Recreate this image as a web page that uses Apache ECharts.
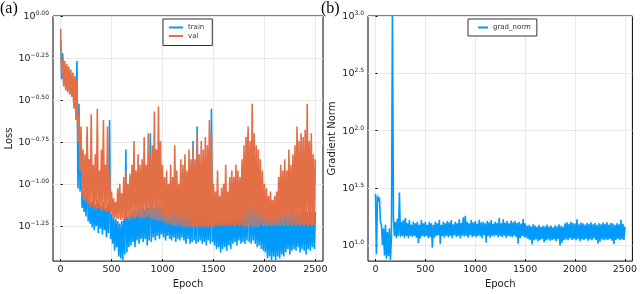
<!DOCTYPE html>
<html>
<head>
<meta charset="utf-8">
<script src="https://cdn.jsdelivr.net/npm/echarts@6/dist/echarts.min.js"></script>
<style>html,body{margin:0;padding:0;background:#fff}#c{width:640px;height:294px}</style>
</head>
<body>
<div id="c"></div>
<script>
const EPOCH_STEP = 10;
const trainLoss = [
0.72,0.42,0.60,0.40,0.48,0.37,0.50,0.36,0.46,0.35,
0.45,0.33,0.43,0.29,0.42,0.26,0.54,0.094,0.30,0.090,
0.16,0.072,0.090,0.068,0.085,0.064,0.19,0.060,0.080,0.058,
0.078,0.055,0.082,0.053,0.075,0.056,0.080,0.051,0.076,0.054,
0.074,0.050,0.078,0.053,0.072,0.048,0.076,0.051,0.24,0.047,
0.066,0.044,0.064,0.040,0.062,0.042,0.060,0.037,0.058,0.036,
0.060,0.035,0.062,0.038,0.16,0.039,0.064,0.042,0.066,0.043,
0.068,0.045,0.070,0.042,0.068,0.046,0.072,0.044,0.070,0.047,
0.072,0.045,0.070,0.047,0.074,0.043,0.072,0.046,0.20,0.045,
0.074,0.048,0.072,0.046,0.076,0.049,0.074,0.047,0.072,0.050,
0.074,0.048,0.076,0.046,0.072,0.049,0.074,0.047,0.070,0.046,
0.072,0.048,0.070,0.045,0.074,0.047,0.072,0.046,0.070,0.048,
0.072,0.046,0.070,0.044,0.074,0.047,0.072,0.044,0.070,0.045,
0.18,0.046,0.074,0.044,0.22,0.045,0.072,0.046,0.074,0.044,
0.072,0.045,0.076,0.043,0.074,0.046,0.078,0.044,0.28,0.045,
0.070,0.043,0.068,0.041,0.070,0.042,0.068,0.039,0.066,0.041,
0.068,0.042,0.066,0.040,0.068,0.043,0.070,0.041,0.068,0.044,
0.070,0.045,0.072,0.043,0.070,0.046,0.072,0.044,0.074,0.045,
0.076,0.044,0.074,0.046,0.20,0.045,0.078,0.044,0.076,0.046,
0.074,0.044,0.072,0.042,0.070,0.043,0.068,0.041,0.066,0.040,
0.066,0.039,0.064,0.036,0.066,0.037,0.064,0.035,0.062,0.037,
0.064,0.035,0.062,0.037,0.064,0.036,0.066,0.038,0.064,0.037,
0.066,0.039,0.068,0.041,0.066,0.038,0.068,0.040,0.070,0.041,
0.068,0.040,0.070,0.042,0.068,0.039,0.070,0.041,0.072,0.040,
0.070,0.038,0.068,0.041,0.070,0.040,0.068,0.042,0.070,0.041,
0.068];
const valLoss = [
0.84,0.45,0.56,0.38,0.54,0.36,0.52,0.35,0.50,0.34,
0.48,0.33,0.46,0.28,0.44,0.24,0.42,0.18,0.26,0.12,
0.22,0.085,0.16,0.080,0.15,0.078,0.22,0.075,0.14,0.072,
0.26,0.074,0.13,0.071,0.15,0.070,0.28,0.072,0.12,0.070,
0.16,0.069,0.24,0.070,0.13,0.068,0.22,0.069,0.12,0.066,
0.090,0.064,0.082,0.063,0.078,0.062,0.094,0.062,0.10,0.061,
0.088,0.062,0.11,0.061,0.12,0.062,0.10,0.063,0.115,0.062,
0.13,0.063,0.18,0.062,0.12,0.064,0.15,0.063,0.13,0.062,
0.14,0.063,0.19,0.062,0.13,0.064,0.20,0.063,0.15,0.062,
0.17,0.061,0.27,0.062,0.16,0.060,0.29,0.061,0.18,0.060,
0.13,0.059,0.11,0.058,0.12,0.057,0.10,0.058,0.13,0.057,
0.11,0.056,0.17,0.057,0.12,0.056,0.10,0.057,0.14,0.056,
0.13,0.055,0.15,0.056,0.12,0.055,0.16,0.056,0.14,0.055,
0.17,0.056,0.14,0.055,0.20,0.056,0.15,0.055,0.18,0.056,
0.16,0.055,0.19,0.056,0.17,0.055,0.24,0.056,0.20,0.055,
0.10,0.056,0.090,0.057,0.12,0.056,0.085,0.057,0.095,0.056,
0.10,0.057,0.13,0.056,0.090,0.057,0.11,0.056,0.12,0.057,
0.11,0.056,0.13,0.057,0.12,0.056,0.11,0.057,0.14,0.056,
0.17,0.055,0.19,0.056,0.22,0.055,0.18,0.056,0.30,0.055,
0.20,0.056,0.17,0.055,0.16,0.056,0.14,0.057,0.12,0.056,
0.10,0.057,0.094,0.056,0.085,0.057,0.090,0.056,0.080,0.057,
0.085,0.056,0.090,0.057,0.11,0.056,0.13,0.057,0.12,0.056,
0.14,0.057,0.12,0.056,0.16,0.057,0.13,0.056,0.15,0.057,
0.17,0.056,0.22,0.057,0.18,0.056,0.20,0.057,0.19,0.056,
0.21,0.057,0.30,0.056,0.18,0.057,0.20,0.056,0.15,0.057,
0.14];
const gradNorm = [
28,8.3,27,24,26,16,15,10,14,8.1,
15,7.6,13,8.0,14,7.4,12,1200,17,12,
16,11.5,17,12,28.8,11.8,16,12,16.5,11.5,
17.2,12,15.5,11.5,16.5,12,15,11.8,16,12,
15.5,11.6,16,10.4,15,11.4,16.5,12,15.5,11.8,
16,12,15,11.5,16,11.8,15.5,9.5,15,11.6,
16,12,15.5,12.2,16.5,10.2,15,12,16,11.6,
15.5,12.1,16.2,11.7,15.8,12,16.5,11.5,15.2,12.2,
16,11.8,15.5,12,16.8,11.4,15.6,12.1,17.5,11.9,
18,12,16,11.6,15.5,12.2,16.5,11.8,15.8,12,
16.2,11.7,15.4,12.1,16.6,11.9,15.7,11.5,16,12.2,
15.5,10.5,16.3,12,15.8,11.6,16.5,12.1,15.3,11.9,
16,12.2,15.6,11.7,17.2,12,15.5,11.8,16.8,12.1,
15.7,11.6,16.2,12,15.5,11.9,16.4,11.7,15.8,12.1,
16.3,11.8,15.6,10.3,16,11.5,15.4,12,16.9,11.8,
15.5,11.6,14.8,11.3,15,11.1,14.6,10.1,15.2,11.0,
14.8,11.2,14.5,10.8,15,11.1,14.4,11.3,14.7,10.6,
14.6,11.0,15.1,11.2,14.5,10.9,14.8,11.1,14.3,11.2,
14.9,10.8,14.6,11.3,15.2,9.9,14.7,10.5,14.5,11.1,
15.5,11.2,15.8,11.0,15.3,11.4,16,11.1,15.6,11.3,
15.4,11.0,16.8,11.3,15.2,10.8,15.7,11.2,15.5,11.1,
15.1,11.3,15.6,10.9,15.3,11.2,15.8,11.0,15.2,11.4,
15.6,11.1,15.0,10.3,15.5,10.7,15.2,11.2,15.7,11.0,
15.3,11.2,15.8,11.1,15.1,11.3,15.6,10.9,15.4,10.2,
15.0,11.1,15.5,11.3,15.2,11.0,16.5,11.2,15.3,11.1,
14.5];
const epochTicks = [0, 500, 1000, 1500, 2000, 2500];
const lossTickExp = [-1.25, -1.0, -0.75, -0.5, -0.25, 0];
const gradTickExp = [1.0, 1.5, 2.0, 2.5, 3.0];

// ---- build ----
const pairs = arr => arr.map((v, i) => [i * EPOCH_STEP, v]);
const lossTicks = lossTickExp.map(e => Math.pow(10, e));
const gradTicks = gradTickExp.map(e => Math.pow(10, e));
const FONT = 'DejaVu Sans';
const BLUE = '#009AFA', ORANGE = '#E36F47';

function supFmt(digits) {
  return function (v) {
    let s = Math.log10(v).toFixed(digits);
    if (/^-0\.0+$/.test(s)) s = s.slice(1);
    s = s.replace('-', '\u2212');
    return '{b|10}{s|' + s + '}';
  };
}
const rich = {
  b: { fontSize: 9.5, lineHeight: 11, verticalAlign: 'bottom', color: '#222', fontFamily: FONT },
  s: { fontSize: 6, lineHeight: 6, verticalAlign: 'top', color: '#222', fontFamily: FONT }
};

function xAxis(gi) {
  return {
    type: 'value', gridIndex: gi, min: -75, max: 2575,
    name: 'Epoch', nameLocation: 'middle', nameGap: 14,
    nameTextStyle: { fontFamily: FONT, fontSize: 10, color: '#222' },
    axisLine: { show: false },
    axisTick: { show: true, inside: true, length: 2, customValues: epochTicks, lineStyle: { color: '#000' } },
    axisLabel: { customValues: epochTicks, margin: 3, fontFamily: FONT, fontSize: 9.5, color: '#222',
                 formatter: v => String(v) },
    splitLine: { show: true, lineStyle: { color: '#e8e8e8', width: 1 } }
  };
}
function yAxis(gi, min, max, ticks, digits, name, gap) {
  return {
    type: 'log', logBase: 10, gridIndex: gi, min: min, max: max,
    name: name, nameLocation: 'middle', nameGap: gap,
    nameTextStyle: { fontFamily: FONT, fontSize: 10, color: '#222' },
    axisLine: { show: false },
    axisTick: { show: true, inside: true, length: 2, customValues: ticks, lineStyle: { color: '#000' } },
    axisLabel: { customValues: ticks, margin: 4, formatter: supFmt(digits), rich: rich },
    splitLine: { show: true, lineStyle: { color: '#e8e8e8', width: 1 } },
    minorTick: { show: false }, minorSplitLine: { show: false }
  };
}
const line = (name, data, color, xi) => ({
  name: name, type: 'line', xAxisIndex: xi, yAxisIndex: xi, data: pairs(data),
  showSymbol: false, symbol: 'none', animation: false,
  lineStyle: { color: color, width: 1.6 }, itemStyle: { color: color }
});
const legendCommon = {
  orient: 'vertical', icon: 'rect', itemHeight: 2, backgroundColor: '#fff',
  borderColor: '#333', borderWidth: 1, borderRadius: 0, selectedMode: false,
  textStyle: { fontFamily: FONT, fontSize: 7, color: '#333' }
};

const chart = echarts.init(document.getElementById('c'), null, { renderer: 'canvas' });
chart.setOption({
  animation: false,
  backgroundColor: '#fff',
  textStyle: { fontFamily: FONT },
  graphic: [
    { type: 'text', left: 0, top: 1, style: { text: '(a)', font: '16px "Liberation Serif"', fill: '#000' } },
    { type: 'text', left: 321, top: 1, style: { text: '(b)', font: '16px "Liberation Serif"', fill: '#000' } }
  ],
  grid: [
    { left: 53, top: 16, width: 270, height: 251, show: true, borderColor: '#000', borderWidth: 1 },
    { left: 368, top: 16, width: 270, height: 251, show: true, borderColor: '#000', borderWidth: 1 }
  ],
  xAxis: [xAxis(0), xAxis(1)],
  yAxis: [
    yAxis(0, Math.pow(10, -1.46), 1, lossTicks, 2, 'Loss', 39),
    yAxis(1, Math.pow(10, 0.86), 1000, gradTicks, 1, 'Gradient Norm', 31)
  ],
  legend: [
    Object.assign({}, legendCommon, { data: ['train', 'val'], left: 163, top: 19,
      padding: [5, 8, 6, 6], itemWidth: 14, itemGap: 1.5 }),
    Object.assign({}, legendCommon, { data: ['grad_norm'], left: 468, top: 19,
      padding: [5, 6, 5, 10], itemWidth: 10 })
  ],
  series: [
    line('train', trainLoss, BLUE, 0),
    line('val', valLoss, ORANGE, 0),
    line('grad_norm', gradNorm, BLUE, 1)
  ]
});
</script>
</body>
</html>
